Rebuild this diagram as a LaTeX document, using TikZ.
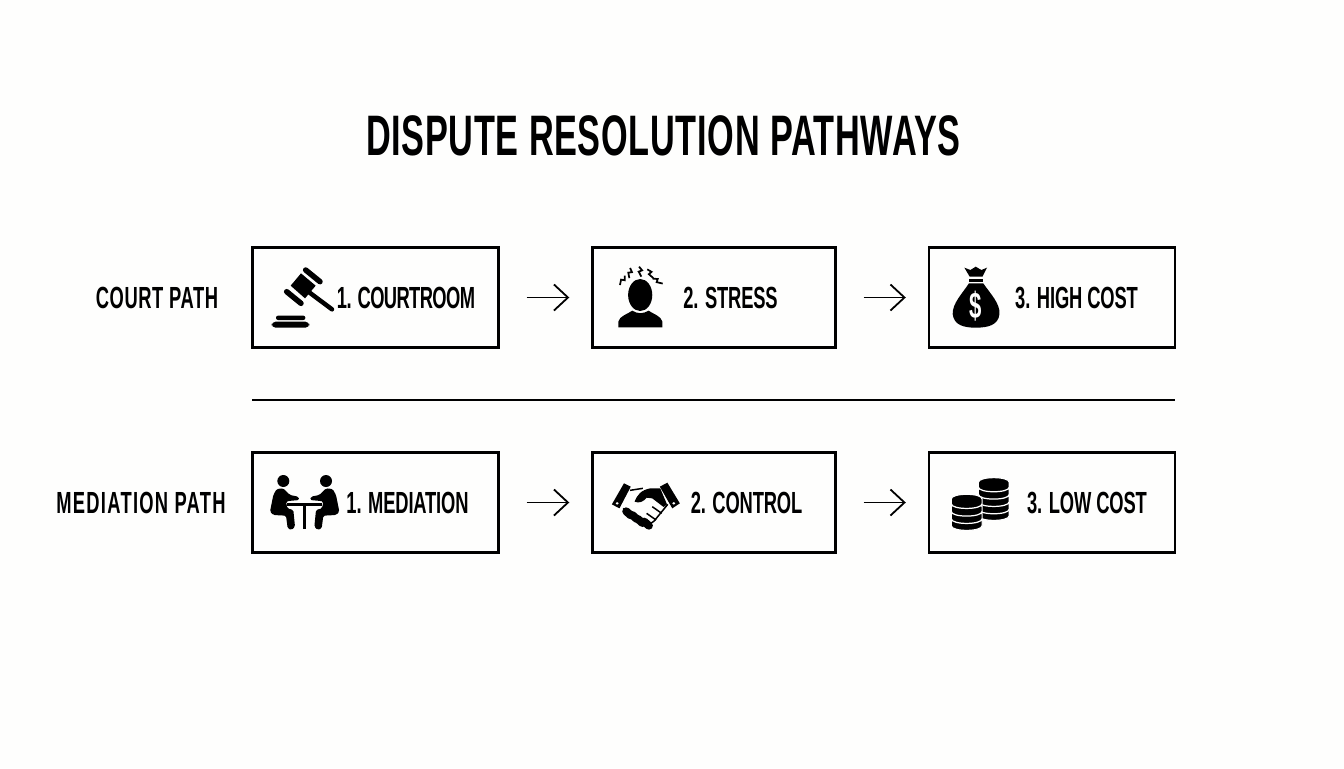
\documentclass[tikz,border=0pt]{standalone}
\usepackage{fontspec}
\setmainfont[FakeStretch=0.6]{Liberation Sans}
\usepackage{tikz}
\usetikzlibrary{arrows.meta}
\usetikzlibrary{calc}
\definecolor{paper}{HTML}{FEFEFD}
\newcommand{\coindisk}[2]{%
\draw [fill=black,draw=white,line width=0.7pt] (#1-41,#2) -- (#1-41,#2+14) .. controls (#1-41,#2+33) and (#1+41,#2+33) .. (#1+41,#2+14) -- (#1+41,#2) .. controls (#1+41,#2-19) and (#1-41,#2-19) .. (#1-41,#2) -- cycle;}
\begin{document}
\begin{tikzpicture}[x=0.02cm,y=-0.02cm]
\tikzstyle{stepbox}=[draw,line width=0.05cm,minimum width=4.92cm,minimum height=2cm,inner sep=0]
\tikzstyle{steptext}=[inner sep=0,font=\bfseries\fontsize{17.4}{20}\selectfont\addfontfeature{LetterSpace=-0.5}]
\tikzstyle{pathtext}=[inner sep=0,font=\bfseries\fontsize{17.4}{20}\selectfont]
\tikzstyle{flow}=[line width=0.036cm,-{Straight Barb[length=0.28cm,width=0.52cm]},shorten <=0.54cm,shorten >=0.44cm]
\tikzstyle{iconA}=[shift={(#1)},scale=1/3]
\tikzstyle{iconB}=[shift={(#1)},xscale=0.3774,yscale=1/3]
\useasboundingbox (0,0) rectangle (1344,768);
\fill [paper] (0,0) rectangle (1344,768);
\node [inner sep=0,font=\bfseries\fontsize{32.5}{36}\selectfont\addfontfeature{LetterSpace=1.2}] (title) at (663.5,136) {DISPUTE RESOLUTION PATHWAYS};
\node [pathtext,font=\bfseries\fontsize{17.4}{20}\selectfont\addfontfeature{LetterSpace=2}] (court) at (157,298) {COURT PATH};
\node [pathtext,font=\bfseries\fontsize{17.4}{20}\selectfont\addfontfeature{LetterSpace=4.2}] (mediation) at (141,503) {MEDIATION PATH};
% top row
\node [stepbox] (c1) at (375.5,297.5) {};
\node [stepbox,minimum width=4.86cm] (c2) at (714,297.5) {};
\node [stepbox] (c3) at (1052,297.5) {};
\node [steptext,font=\bfseries\fontsize{17.4}{20}\selectfont\addfontfeature{LetterSpace=-2}] (c1t) at (406,298) {1. COURTROOM};
\node [steptext] (c2t) at (730.5,298) {2. STRESS};
\node [steptext] (c3t) at (1076.5,298) {3. HIGH COST};
\draw [flow] (c1.east) -- (c2.west);
\draw [flow] (c2.east) -- (c3.west);
% bottom row
\node [stepbox] (m1) at (375.5,502.5) {};
\node [stepbox,minimum width=4.86cm] (m2) at (714,502.5) {};
\node [stepbox] (m3) at (1052,502.5) {};
\node [steptext] (m1t) at (407.5,503) {1. MEDIATION};
\node [steptext] (m2t) at (746.5,503) {2. CONTROL};
\node [steptext] (m3t) at (1087,503) {3. LOW COST};
\draw [flow] (m1.east) -- (m2.west);
\draw [flow] (m2.east) -- (m3.west);
% divider
\coordinate (divl) at (252,400);
\coordinate (divr) at (1175,400);
\draw [line width=0.04cm] (divl) -- (divr);
% gavel
\begin{scope}[iconA={250,240}]
\draw [line width=0.11cm,line cap=round] (167,90) -- (210,125);
\draw [line width=0.11cm,line cap=round] (110,155) -- (153,190);
\fill (153,100) -- (197,137) -- (165,175) -- (122,137) -- cycle;
\draw [line width=0.09cm,line cap=round] (175,155) -- (246,208);
\fill [rounded corners=0.04cm] (78,227) rectangle (166,240);
\fill [rounded corners=0.08cm] (65,245) rectangle (178,263);
\end{scope}
% stressed head
\begin{scope}[iconB={590,240}]
\fill (133,165) ellipse (32 and 48);
\fill (75,262) -- (75,245) .. controls (78,228) and (100,222) .. (112,212) .. controls (125,222) and (142,222) .. (155,212) .. controls (168,222) and (188,228) .. (192,245) -- (192,262) -- cycle;
\foreach \a/\b/\r in {85/122/-35,105/100/-15,133/96/0,160/102/20,180/124/50}{
\begin{scope}[shift={(\a,\b)},rotate=\r]
\draw [line width=0.035cm] (-3,-16) -- (5,-5) -- (-4,-1) -- (3,14);
\end{scope}
}
\end{scope}
% money bag
\begin{scope}[iconB={590,240}]
\fill (992,83) -- (1008,90) -- (1022,80) -- (1037,90) -- (1052,83) -- (1040,110) -- (1006,110) -- cycle;
\fill (1004,116) rectangle (1042,125);
\fill (1004,130) -- (1042,130) .. controls (1060,160) and (1087,190) .. (1085,222) .. controls (1082,255) and (1055,263) .. (1022,263) .. controls (990,263) and (964,255) .. (961,222) .. controls (960,190) and (987,160) .. (1004,130) -- cycle;
\end{scope}
\node [white,inner sep=0,font=\bfseries\fontsize{21}{22}\selectfont] (dollar) at (975.5,306) {\$};
% two people at a table
\begin{scope}[iconA={250,445}]
\foreach \s in {1,-1}{
\begin{scope}[shift={(164,0)},xscale=\s]
\fill (-64,108) circle (18);
\fill [rounded corners=0.03cm] (-84,132) -- (-64,130) -- (-44,150) -- (-19,155) -- (-16,165) -- (-49,168) -- (-56,170) -- (-52,190) -- (-34,195) -- (-29,245) -- (-39,255) -- (-51,250) -- (-56,212) -- (-94,210) -- (-104,200) -- (-94,150) -- cycle;
\end{scope}
}
\draw [line width=0.05cm] (112,178) -- (216,178);
\draw [line width=0.07cm] (163,178) -- (163,252);
\end{scope}
% handshake
\begin{scope}[iconB={590,445}]
\fill (90,115) -- (108,125) -- (78,190) -- (58,178) -- cycle;
\fill (185,125) -- (205,113) -- (238,175) -- (218,190) -- cycle;
\fill [white] (72,175) circle (4);
\fill [white] (222,175) circle (4);
\draw [line width=0.03cm] (106,136) -- (140,130);
\draw [line width=0.03cm] (206,178) -- (170,228) -- (150,244) -- (130,235) -- (88,190);
\foreach \a/\b in {102/205,118/216,133/228,150/236}{
\draw [line width=0.16cm,line cap=round] (\a-6,\b-6) -- (\a+6,\b+6);
}
\fill (118,170) .. controls (125,150) and (135,135) .. (160,130) -- (186,130) -- (204,178) -- (195,186) -- (165,160) -- (150,158) .. controls (142,170) and (130,176) .. (118,170) -- cycle;
\draw [line width=0.03cm] (165,185) -- (190,205);
\draw [line width=0.03cm] (150,205) -- (175,225);
\end{scope}
% coins
\begin{scope}[iconB={590,445}]
\foreach \b in {198,178,156,134,112}{\coindisk{1070}{\b}}
\foreach \b in {228,207,185,162}{\coindisk{998}{\b}}
\end{scope}
\end{tikzpicture}
\end{document}
